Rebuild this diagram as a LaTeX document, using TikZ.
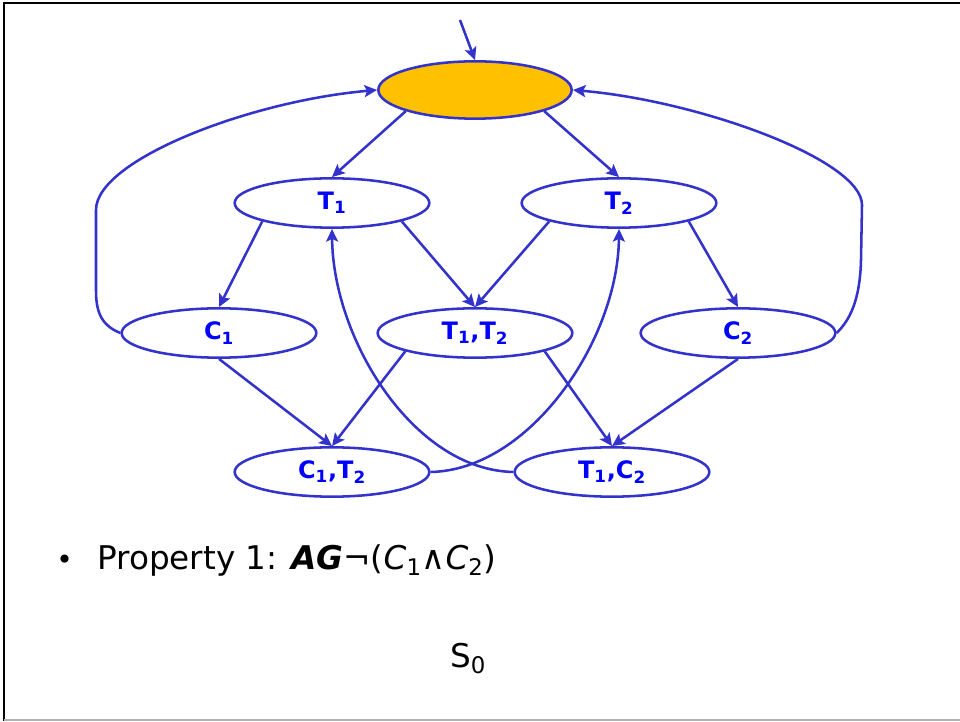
\documentclass[tikz,border=0pt]{standalone}
\usepackage{fontspec}
\setmainfont{DejaVu Sans}
\usetikzlibrary{shapes.geometric, arrows.meta}
\definecolor{bleutrait}{RGB}{51, 51, 204}
\definecolor{bleutexte}{RGB}{0, 0, 255}
\definecolor{orangedepart}{RGB}{255, 192, 0}

\begin{document}
\begin{tikzpicture}[x=0.75pt, y=0.75pt,
    >={Stealth[length=9.5pt, width=9pt, inset=2pt]},
    etat/.style={ellipse, draw=bleutrait, line width=1.9pt, minimum width=146pt,
                 minimum height=37pt, text=bleutexte,
                 font=\bfseries\fontsize{18}{20}\selectfont},
    depart/.style={etat, fill=orangedepart, minimum width=145pt, minimum height=43pt},
    fleche/.style={->, line width=1.9pt, draw=bleutrait},
    texte/.style={anchor=base west, inner sep=0pt, font=\fontsize{24.5}{30}\selectfont}]
    \useasboundingbox (0,0) rectangle (960,721);
    % cadre de la diapositive
    \draw[line width=1.6pt] (4,0.5) -- (4,718) -- (960,718);
    \draw[gray!60, line width=0.8pt] (4,1) -- (960,1);

    \node[depart] (s0) at (475,631) {};
    \node[etat] (t1) at (332,518) {T\textsubscript{1}};
    \node[etat] (t2) at (619,518) {T\textsubscript{2}};
    \node[etat] (c1) at (219,388) {C\textsubscript{1}};
    \node[etat] (t1t2) at (475,388) {T\textsubscript{1},T\textsubscript{2}};
    \node[etat] (c2) at (738,388) {C\textsubscript{2}};
    \node[etat] (c1t2) at (332,249) {C\textsubscript{1},T\textsubscript{2}};
    \node[etat] (t1c2) at (612,249) {T\textsubscript{1},C\textsubscript{2}};
    \coordinate (entree) at (460,701);

    \draw[fleche] (entree) -- (s0.north);
    \draw[fleche] (s0.south west) -- (t1.north);
    \draw[fleche] (s0.south east) -- (t2.north);
    \draw[fleche] (t1.south west) -- (c1.north);
    \draw[fleche] (t1.south east) -- (t1t2.north);
    \draw[fleche] (t2.south west) -- (t1t2.north);
    \draw[fleche] (t2.south east) -- (c2.north);
    \draw[fleche] (c1.south) -- (c1t2.north);
    \draw[fleche] (t1t2.south west) -- (c1t2.north);
    \draw[fleche] (t1t2.south east) -- (t1c2.north);
    \draw[fleche] (c2.south) -- (t1c2.north);
    % retours vers l'etat initial
    \draw[fleche] (c1.west) .. controls (100,396) and (96,411) .. (96,431)
        -- (96,511) .. controls (96,561) and (250,620) .. (s0.west);
    \draw[fleche] (c2.east) .. controls (850,401) and (860,421) .. (861,461)
        -- (862,516) .. controls (862,561) and (700,620) .. (s0.east);
    % arcs croises
    \draw[fleche] (c1t2.east) .. controls (530,251) and (618,381) .. (t2.south);
    \draw[fleche] (t1c2.west) .. controls (414,251) and (333,381) .. (t1.south);

    \node[texte] (propriete) at (56,151)
        {{\fontsize{21}{21}\selectfont•}\hspace{0.75em}Property 1: \textbf{\textit{AG}}¬(\textit{C}\textsubscript{1}∧\textit{C}\textsubscript{2})};
    \node[texte, anchor=base] (etiquette) at (468,53) {S\textsubscript{0}};
\end{tikzpicture}
\end{document}
